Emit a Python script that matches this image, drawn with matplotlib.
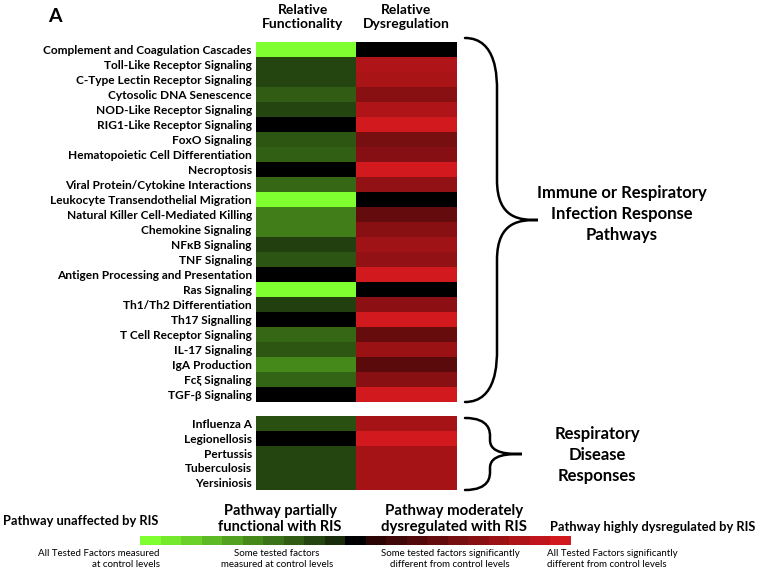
import numpy as np
import matplotlib
matplotlib.use("Agg")
import matplotlib.pyplot as plt
from matplotlib.colors import LinearSegmentedColormap
from matplotlib.path import Path
from matplotlib.patches import PathPatch

plt.rcParams['font.family'] = ['Lato', 'DejaVu Sans']

# --- datos ---
vias_inmunes = [
    "Complement and Coagulation Cascades", "Toll-Like Receptor Signaling",
    "C-Type Lectin Receptor Signaling", "Cytosolic DNA Senescence",
    "NOD-Like Receptor Signaling", "RIG1-Like Receptor Signaling",
    "FoxO Signaling", "Hematopoietic Cell Differentiation", "Necroptosis",
    "Viral Protein/Cytokine Interactions", "Leukocyte Transendothelial Migration",
    "Natural Killer Cell-Mediated Killing", "Chemokine Signaling",
    "NF\u03baB Signaling", "TNF Signaling", "Antigen Processing and Presentation",
    "Ras Signaling", "Th1/Th2 Differentiation", "Th17 Signalling",
    "T Cell Receptor Signaling", "IL-17 Signaling", "IgA Production",
    "Fc\u03be Signaling", "TGF-\u03b2 Signaling",
]
func_inmunes = [1.0, 0.2, 0.2, 0.3, 0.2, 0.0, 0.28, 0.32, 0.0, 0.35, 1.0, 0.45,
                0.45, 0.18, 0.27, 0.0, 1.0, 0.18, 0.0, 0.35, 0.28, 0.5, 0.33, 0.0]
disreg_inmunes = [0.0, 0.8, 0.78, 0.6, 0.8, 1.0, 0.5, 0.58, 1.0, 0.65, 0.0, 0.4,
                  0.6, 0.72, 0.65, 1.0, 0.0, 0.62, 1.0, 0.42, 0.7, 0.35, 0.6, 1.0]

enfermedades = ["Influenza A", "Legionellosis", "Pertussis", "Tuberculosis", "Yersiniosis"]
func_enf = [0.25, 0.0, 0.2, 0.2, 0.2]
disreg_enf = [0.75, 1.0, 0.75, 0.75, 0.75]

niveles_leyenda = np.round(np.arange(-10, 11) / 10, 1)

# verde brillante -> negro -> rojo brillante
cmap = LinearSegmentedColormap.from_list("verde_rojo", [
    (0.0, (128/255, 255/255, 48/255)),
    (0.45, (25/255, 45/255, 12/255)),
    (0.5, (0, 0, 0)),
    (0.55, (45/255, 5/255, 5/255)),
    (1.0, (210/255, 25/255, 30/255)),
])

W, H = 762, 570
fig = plt.figure(figsize=(W / 100, H / 100), dpi=100)


def caja(x0, y0, x1, y1):
    return [x0 / W, 1 - y1 / H, (x1 - x0) / W, (y1 - y0) / H]


def heatmap(ax, nombres, func, disreg):
    m = np.column_stack([-np.array(func), np.array(disreg)])
    ax.imshow(m, cmap=cmap, vmin=-1, vmax=1, aspect='auto', interpolation='nearest')
    ax.set_yticks(range(len(nombres)))
    ax.set_yticklabels(nombres, fontsize=8.6, fontweight='bold')
    ax.set_xticks([])
    ax.tick_params(axis='y', length=0, pad=3)
    for s in ax.spines.values():
        s.set_visible(False)


ax1 = fig.add_axes(caja(256, 42, 457, 402))
heatmap(ax1, vias_inmunes, func_inmunes, disreg_inmunes)
ax2 = fig.add_axes(caja(256, 416, 457, 490))
heatmap(ax2, enfermedades, func_enf, disreg_enf)

# barra de leyenda
axl = fig.add_axes(caja(140, 536, 571, 545))
axl.imshow(niveles_leyenda[np.newaxis, :], cmap=cmap, vmin=-1, vmax=1,
           aspect='auto', interpolation='nearest')
axl.axis('off')

# capa de anotaciones en pixeles
ov = fig.add_axes([0, 0, 1, 1])
ov.set_xlim(0, W)
ov.set_ylim(H, 0)
ov.axis('off')

ov.text(48, 16, "A", fontsize=14, fontweight='bold', va='center', ha='left')
ov.text(303, 17, "Relative\nFunctionality", fontsize=10, fontweight='bold',
        ha='center', va='center', linespacing=1.25)
ov.text(406, 17, "Relative\nDysregulation", fontsize=10, fontweight='bold',
        ha='center', va='center', linespacing=1.25)


def llave(x0, y0, y1, xv, xt, curva):
    ym = (y0 + y1) / 2
    verts = [
        (x0, y0), (xv, y0), (xv, y0 + curva), (xv, y0 + curva * 1.3),
        (xv, ym - curva), (xv, ym), (xt - (xt - xv) * 0.4, ym),
        (xt, ym),
        (xt - (xt - xv) * 0.4, ym), (xv, ym), (xv, ym + curva),
        (xv, y1 - curva * 1.3), (xv, y1 - curva), (xv, y1), (x0, y1),
    ]
    codes = [Path.MOVETO, Path.CURVE4, Path.CURVE4, Path.CURVE4,
             Path.LINETO, Path.CURVE4, Path.CURVE4, Path.CURVE4,
             Path.CURVE4, Path.CURVE4, Path.CURVE4,
             Path.LINETO, Path.CURVE4, Path.CURVE4, Path.CURVE4]
    ov.add_patch(PathPatch(Path(verts, codes), fill=False, lw=1.8, color='black',
                           capstyle='round'))


llave(465, 38, 402, 497, 538, 40)
llave(465, 418, 490, 490, 522, 14)

ov.text(622, 214, "Immune or Respiratory\nInfection Response\nPathways", fontsize=12,
        fontweight='bold', ha='center', va='center', linespacing=1.35)
ov.text(597, 455, "Respiratory\nDisease\nResponses", fontsize=12,
        fontweight='bold', ha='center', va='center', linespacing=1.35)

ov.text(3, 521, "Pathway unaffected by RIS", fontsize=9.3, fontweight='bold',
        ha='left', va='center')
ov.text(280, 519, "Pathway partially\nfunctional with RIS", fontsize=10.5,
        fontweight='bold', ha='center', va='center', linespacing=1.2)
ov.text(454, 519, "Pathway moderately\ndysregulated with RIS", fontsize=10.8,
        fontweight='bold', ha='center', va='center', linespacing=1.2)
ov.text(550, 527, "Pathway highly dysregulated by RIS", fontsize=9.3,
        fontweight='bold', ha='left', va='center')

ov.text(160, 559, "All Tested Factors measured\nat control levels", fontsize=7,
        ha='right', va='center', linespacing=1.3)
ov.text(277, 559, "Some tested factors\nmeasured at control levels", fontsize=7,
        ha='center', va='center', linespacing=1.3)
ov.text(450, 559, "Some tested factors significantly\ndifferent from control levels",
        fontsize=7, ha='center', va='center', linespacing=1.3)
ov.text(547, 559, "All Tested Factors significantly\ndifferent from control levels",
        fontsize=7, ha='left', va='center', linespacing=1.3)

fig.savefig("out.png", dpi=100)
